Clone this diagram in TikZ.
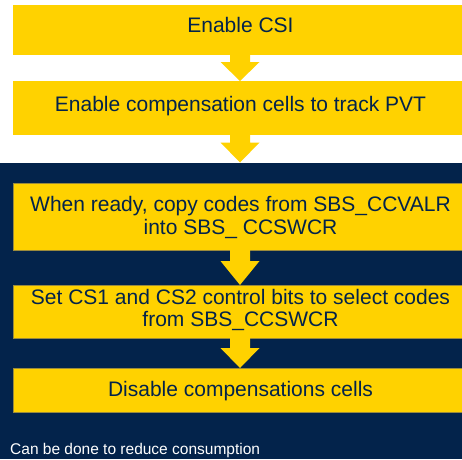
\documentclass[tikz,border=0pt]{standalone}
\usepackage{fontspec}
\setmainfont{Liberation Sans}
\usetikzlibrary{calc}
\definecolor{styel}{HTML}{FFD200}
\definecolor{stnavy}{HTML}{03234B}
\definecolor{edgeol}{HTML}{9A8A3C}
\tikzset{
  stbox/.style={rectangle, fill=styel, minimum width=454pt, inner sep=0pt, outer sep=0pt},
  edged/.style={draw=edgeol, line width=0.6pt},
  btext/.style={anchor=base, inner sep=0pt, text=stnavy, font=\fontsize{21}{23}\selectfont},
  ntext/.style={anchor=base west, inner sep=0pt, text=white, font=\fontsize{15.5}{18}\selectfont},
  arrowfill/.style={fill=styel}
}
\begin{document}
\begin{tikzpicture}[x=1pt,y=-1pt]
\useasboundingbox (0,0) rectangle (462,459);
\fill[white] (0,0) rectangle (462,459);
% navy panel
\node[rectangle, fill=stnavy, minimum width=462pt, minimum height=296.5pt, inner sep=0pt, outer sep=0pt, anchor=north west] (panel) at (0,162.5) {};
% boxes
\node[stbox, minimum height=49.5pt] (b1) at (240,29.75) {};
\node[stbox, minimum height=54pt] (b2) at (240,108) {};
\node[stbox, edged, minimum height=67pt] (b3) at (240,216.5) {};
\node[stbox, edged, minimum height=53pt] (b4) at (240,311.5) {};
\node[stbox, edged, minimum height=44pt] (b5) at (240,390) {};
% arrows
\fill[arrowfill] ($(b1.south)+(-10,0)$) -- ($(b1.south)+(10,0)$) -- ($(b2.north)+(10,-19)$) -- ($(b2.north)+(19.5,-19)$) -- (b2.north) -- ($(b2.north)+(-19.5,-19)$) -- ($(b2.north)+(-10,-19)$) -- cycle;
\coordinate (p2) at (b2.south |- panel.north);
\fill[arrowfill] ($(b2.south)+(-10,0)$) -- ($(b2.south)+(10,0)$) -- ($(p2)+(10,-20)$) -- ($(p2)+(19.5,-20)$) -- (p2) -- ($(p2)+(-19.5,-20)$) -- ($(p2)+(-10,-20)$) -- cycle;
\fill[arrowfill] ($(b3.south)+(-10,0)$) -- ($(b3.south)+(10,0)$) -- ($(b4.north)+(10,-24)$) -- ($(b4.north)+(19.5,-24)$) -- (b4.north) -- ($(b4.north)+(-19.5,-24)$) -- ($(b4.north)+(-10,-24)$) -- cycle;
\fill[arrowfill] ($(b4.south)+(-10,0)$) -- ($(b4.south)+(10,0)$) -- ($(b5.north)+(10,-20)$) -- ($(b5.north)+(19.5,-20)$) -- (b5.north) -- ($(b5.north)+(-19.5,-20)$) -- ($(b5.north)+(-10,-20)$) -- cycle;
% texts
\node[btext] (t1) at (240.5,32.3) {Enable CSI};
\node[btext] (t2) at (240.5,111) {Enable compensation cells to track PVT};
\node[btext] (t3a) at (240.5,211.7) {When ready, copy codes from SBS\_CCVALR};
\node[btext] (t3b) at (240.5,234) {into SBS\_ CCSWCR};
\node[btext] (t4a) at (240.5,304.2) {Set CS1 and CS2 control bits to select codes};
\node[btext] (t4b) at (240.5,326.7) {from SBS\_CCSWCR};
\node[btext] (t5) at (240.5,396.7) {Disable compensations cells};
\node[ntext] (note) at (10,454) {Can be done to reduce consumption};
\end{tikzpicture}
\end{document}
